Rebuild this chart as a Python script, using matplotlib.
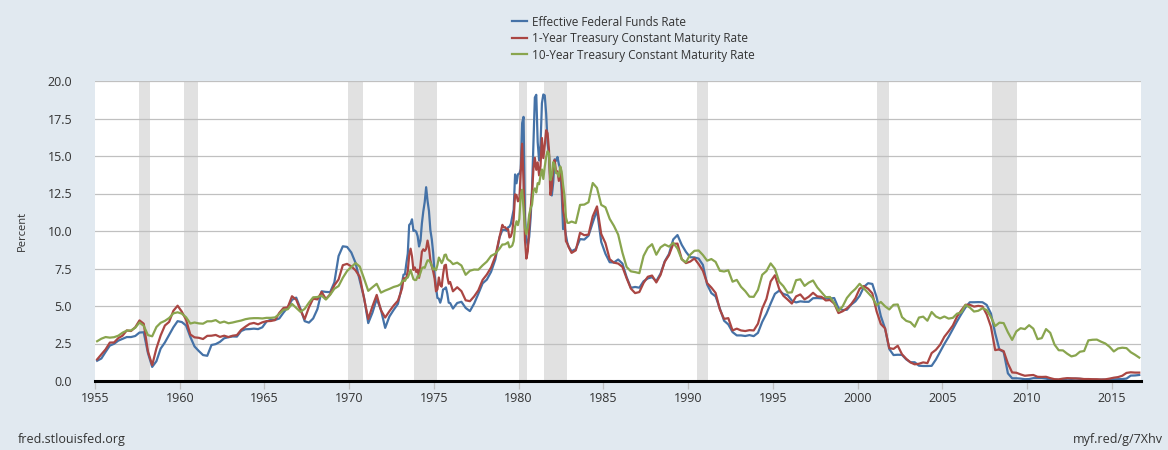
import numpy as np
import matplotlib.pyplot as plt

# Effective Federal Funds Rate (quarterly / monthly in volatile years)
ff_q_1955 = [1.35, 1.50, 1.94, 2.36, 2.48, 2.69, 2.81, 2.93, 2.93, 3.00, 3.23, 3.25,
             1.86, 0.94, 1.32, 2.16, 2.57, 3.08, 3.58, 3.99, 3.93, 3.70, 2.94, 2.30,
             2.00, 1.73, 1.68, 2.40, 2.46, 2.61, 2.85, 2.92, 2.97, 2.96, 3.33, 3.45,
             3.46, 3.49, 3.46, 3.58, 3.97, 4.08, 4.07, 4.17, 4.56, 4.91, 5.41, 5.56,
             4.82, 3.99, 3.89, 4.17, 4.79, 5.98, 5.94, 5.92, 6.57, 8.33, 8.98, 8.94,
             8.57, 7.88, 6.70, 5.57, 3.86, 4.56, 5.47, 4.75, 3.54, 4.30, 4.74, 5.14]
ff_m_1973 = [5.94, 6.58, 7.09, 7.12, 7.84, 8.49, 10.40, 10.50, 10.78, 10.01, 10.03, 9.95,
             9.65, 8.97, 9.35, 10.51, 11.31, 11.93, 12.92, 12.01, 11.34, 10.06, 9.45, 8.53,
             7.13, 6.24, 5.54, 5.49, 5.22, 5.55, 6.10, 6.14, 6.24, 5.82, 5.22, 5.20]
ff_q_1976 = [4.83, 5.20, 5.28, 4.87, 4.66, 5.16, 5.82, 6.51, 6.76, 7.28, 8.10, 9.58]
ff_m_1979 = [10.07, 10.06, 10.09, 10.01, 10.24, 10.29, 10.47, 10.94, 11.43, 13.77, 13.18, 13.78,
             13.82, 14.13, 17.19, 17.61, 10.98, 9.47, 9.03, 9.61, 10.87, 12.81, 15.85, 18.90,
             19.08, 15.93, 14.70, 15.72, 18.52, 19.10, 19.04, 17.82, 15.87, 15.08, 13.31, 12.37,
             13.22, 14.78, 14.68, 14.94, 14.45, 14.15, 12.59, 10.12, 10.31, 9.71, 9.20, 8.95]
ff_q_1983 = [8.65, 8.80, 9.46, 9.43, 9.69, 10.56, 11.39, 9.27, 8.48, 7.92, 7.90, 8.10,
             7.83, 6.92, 6.21, 6.27, 6.22, 6.65, 6.84, 6.92, 6.66, 7.16, 7.98, 8.47,
             9.44, 9.73, 9.08, 8.61, 8.25, 8.24, 8.16, 7.74, 6.43, 5.86, 5.64, 4.82,
             4.02, 3.77, 3.26, 3.04, 3.04, 3.00, 3.06, 2.99, 3.21, 3.94, 4.49, 5.17,
             5.81, 6.02, 5.80, 5.72, 5.36, 5.24, 5.31, 5.28, 5.28, 5.52, 5.53, 5.51,
             5.52, 5.50, 5.53, 4.86, 4.73, 4.75, 5.09, 5.31, 5.68, 6.27, 6.52, 6.47,
             5.59, 4.33, 3.50, 2.13, 1.73, 1.75, 1.74, 1.44, 1.25, 1.25, 1.02, 1.00,
             1.00, 1.01, 1.43, 1.95, 2.47, 2.94, 3.46, 3.98, 4.46, 4.91, 5.25, 5.25,
             5.26, 5.25, 5.07, 4.50, 3.18, 2.09, 1.94, 0.51, 0.18, 0.18, 0.16, 0.12,
             0.13, 0.19, 0.19, 0.19, 0.16, 0.09, 0.08, 0.07, 0.10, 0.15, 0.14, 0.16,
             0.14, 0.12, 0.08, 0.09, 0.07, 0.09, 0.09, 0.10, 0.11, 0.12, 0.13, 0.16,
             0.36, 0.37, 0.40]

# 1-Year Treasury Constant Maturity Rate
gs1_q_1955 = [1.44, 1.77, 2.11, 2.56, 2.57, 2.86, 3.02, 3.37, 3.33, 3.58, 4.04, 3.82,
              1.97, 1.06, 2.18, 3.04, 3.70, 3.94, 4.68, 5.02, 4.62, 4.08, 3.10, 2.91,
              2.88, 2.80, 3.01, 3.02, 3.07, 2.94, 3.02, 2.93, 3.02, 3.06, 3.41, 3.62,
              3.81, 3.87, 3.78, 3.91, 3.99, 4.00, 4.06, 4.54, 4.87, 4.91, 5.65, 5.42,
              4.72, 4.13, 4.91, 5.49, 5.44, 5.94, 5.47, 5.78, 6.38, 6.77, 7.72, 7.81,
              7.64, 7.38, 6.94, 5.52, 4.13, 4.98, 5.74, 4.72, 4.23, 4.65, 5.03, 5.35]
gs1_m_1973 = [5.89, 6.19, 6.85, 6.85, 6.89, 7.31, 8.39, 8.82, 8.31, 7.40, 7.57, 7.27,
              7.42, 6.88, 7.76, 8.62, 8.78, 8.67, 8.80, 9.36, 8.87, 8.05, 7.66, 7.31,
              6.83, 5.98, 6.11, 6.90, 6.39, 6.29, 7.11, 7.70, 7.75, 6.95, 6.49, 6.60]
gs1_q_1976 = [5.98, 6.25, 5.99, 5.38, 5.32, 5.64, 6.05, 6.74, 7.10, 7.57, 8.31, 9.61]
gs1_m_1979 = [10.41, 10.24, 10.25, 10.12, 10.12, 9.57, 9.64, 9.98, 10.84, 12.44, 12.39, 11.98,
              12.06, 13.92, 15.82, 13.30, 9.39, 8.16, 8.65, 10.24, 11.52, 12.49, 14.15, 14.88,
              14.08, 14.57, 13.71, 14.32, 16.20, 14.86, 15.72, 16.72, 16.52, 15.38, 12.41, 12.85,
              14.32, 14.73, 13.95, 13.98, 13.34, 14.07, 13.24, 11.43, 10.85, 9.32, 9.16, 8.91]
gs1_q_1983 = [8.54, 8.71, 9.88, 9.72, 9.76, 10.98, 11.64, 9.80, 9.19, 8.12, 7.89, 7.83,
              7.61, 6.85, 6.16, 5.86, 5.93, 6.54, 6.95, 7.03, 6.57, 7.07, 7.95, 8.39,
              9.14, 9.16, 8.13, 7.86, 7.96, 8.17, 7.79, 7.35, 6.53, 6.23, 5.87, 4.77,
              4.14, 4.19, 3.37, 3.49, 3.37, 3.33, 3.39, 3.37, 3.82, 4.83, 5.47, 6.64,
              7.05, 6.14, 5.68, 5.43, 5.16, 5.64, 5.77, 5.44, 5.62, 5.88, 5.64, 5.61,
              5.37, 5.40, 5.16, 4.53, 4.65, 4.84, 5.12, 5.52, 6.15, 6.33, 6.15, 5.84,
              4.65, 3.80, 3.51, 2.19, 2.14, 2.35, 1.78, 1.48, 1.24, 1.11, 1.15, 1.24,
              1.19, 1.86, 2.08, 2.42, 2.95, 3.31, 3.70, 4.30, 4.71, 5.08, 5.08, 4.96,
              5.01, 4.97, 4.44, 3.62, 2.06, 2.11, 1.99, 1.17, 0.57, 0.55, 0.44, 0.35,
              0.38, 0.40, 0.28, 0.27, 0.28, 0.19, 0.12, 0.11, 0.16, 0.19, 0.18, 0.17,
              0.16, 0.13, 0.13, 0.12, 0.12, 0.10, 0.11, 0.16, 0.22, 0.26, 0.35, 0.54,
              0.58, 0.56, 0.56]

# 10-Year Treasury Constant Maturity Rate
gs10_q_1955 = [2.65, 2.82, 2.93, 2.89, 2.92, 3.02, 3.22, 3.36, 3.37, 3.55, 3.90, 3.68,
               3.06, 2.98, 3.60, 3.88, 4.01, 4.20, 4.51, 4.58, 4.49, 4.25, 3.83, 3.90,
               3.84, 3.82, 3.98, 3.98, 4.06, 3.88, 3.96, 3.85, 3.90, 3.97, 4.03, 4.12,
               4.17, 4.19, 4.19, 4.17, 4.21, 4.21, 4.24, 4.46, 4.75, 4.78, 5.14, 4.88,
               4.61, 4.81, 5.22, 5.58, 5.60, 5.69, 5.43, 5.74, 6.15, 6.33, 6.88, 7.33,
               7.59, 7.86, 7.63, 6.84, 6.01, 6.25, 6.48, 5.89, 6.03, 6.14, 6.27, 6.35]
gs10_m_1973 = [6.46, 6.64, 6.71, 6.67, 6.85, 6.90, 7.13, 7.40, 7.09, 6.79, 6.73, 6.74,
               6.99, 6.96, 7.21, 7.51, 7.58, 7.54, 7.81, 8.04, 8.04, 7.90, 7.68, 7.43,
               7.50, 7.39, 7.73, 8.23, 8.06, 7.86, 8.06, 8.40, 8.43, 8.14, 8.05, 8.00]
gs10_q_1976 = [7.79, 7.89, 7.70, 7.08, 7.35, 7.43, 7.42, 7.71, 7.96, 8.34, 8.49, 8.82]
gs10_m_1979 = [9.10, 9.10, 9.12, 9.18, 9.25, 8.91, 8.95, 9.03, 9.33, 10.30, 10.65, 10.39,
               10.80, 12.41, 12.75, 11.47, 10.18, 9.78, 10.25, 11.10, 11.51, 11.75, 12.68, 12.84,
               12.57, 13.19, 13.12, 13.68, 14.10, 13.47, 14.28, 14.94, 15.32, 15.15, 13.39, 13.72,
               14.59, 14.43, 13.86, 13.87, 13.62, 14.30, 13.95, 13.06, 12.34, 10.91, 10.55, 10.54]
gs10_q_1983 = [10.63, 10.53, 11.74, 11.76, 11.92, 13.20, 12.87, 11.74, 11.58, 10.81, 10.34, 9.76,
               8.56, 7.60, 7.31, 7.26, 7.19, 8.34, 8.88, 9.12, 8.42, 8.91, 9.10, 8.96,
               9.21, 8.83, 8.11, 7.91, 8.42, 8.68, 8.70, 8.40, 8.02, 8.13, 7.94, 7.35,
               7.30, 7.38, 6.62, 6.74, 6.28, 5.99, 5.62, 5.61, 6.07, 7.08, 7.33, 7.84,
               7.48, 6.62, 6.32, 5.89, 5.91, 6.72, 6.78, 6.34, 6.56, 6.70, 6.24, 5.91,
               5.59, 5.60, 5.20, 4.67, 4.98, 5.54, 5.88, 6.14, 6.48, 6.18, 5.89, 5.57,
               5.05, 5.27, 4.98, 4.77, 5.08, 5.10, 4.26, 4.01, 3.92, 3.62, 4.23, 4.29,
               4.02, 4.60, 4.30, 4.17, 4.30, 4.16, 4.21, 4.49, 4.57, 5.07, 4.90, 4.63,
               4.68, 4.85, 4.73, 4.26, 3.66, 3.89, 3.86, 3.25, 2.74, 3.31, 3.52, 3.46,
               3.72, 3.49, 2.79, 2.86, 3.46, 3.21, 2.43, 2.05, 2.04, 1.82, 1.64, 1.71,
               1.95, 2.00, 2.71, 2.75, 2.76, 2.62, 2.50, 2.28, 1.97, 2.17, 2.22, 2.19,
               1.92, 1.75, 1.56]

# NBER recessions (peak, trough) as (year, month)
recessions = [((1957, 8), (1958, 4)), ((1960, 4), (1961, 2)), ((1969, 12), (1970, 11)),
              ((1973, 11), (1975, 3)), ((1980, 1), (1980, 7)), ((1981, 7), (1982, 11)),
              ((1990, 7), (1991, 3)), ((2001, 3), (2001, 11)), ((2007, 12), (2009, 6))]

labels = ['Effective Federal Funds Rate', '1-Year Treasury Constant Maturity Rate',
          '10-Year Treasury Constant Maturity Rate']
colors = ['#4572a7', '#aa4643', '#89a54e']


def build(q1955, m1973, q1976, m1979, q1983):
    # stitch quarterly and monthly pieces onto a decimal-year axis
    xs, ys = [], []
    for start, vals, step in [(1955, q1955, 4), (1973, m1973, 12), (1976, q1976, 4),
                              (1979, m1979, 12), (1983, q1983, 4)]:
        xs.append(start + (np.arange(len(vals)) + 0.5) / step)
        ys.append(np.array(vals))
    return np.concatenate(xs), np.concatenate(ys)


series = [build(ff_q_1955, ff_m_1973, ff_q_1976, ff_m_1979, ff_q_1983),
          build(gs1_q_1955, gs1_m_1973, gs1_q_1976, gs1_m_1979, gs1_q_1983),
          build(gs10_q_1955, gs10_m_1973, gs10_q_1976, gs10_m_1979, gs10_q_1983)]

bg = '#e1e9f0'
txt = '#333333'
plt.rcParams['font.family'] = ['Open Sans', 'DejaVu Sans']

fig = plt.figure(figsize=(11.68, 4.5), dpi=100, facecolor=bg)
ax = fig.add_axes([95 / 1168, 1 - 381 / 450, 1046 / 1168, 300 / 450])
ax.set_facecolor('white')

for (y0, m0), (y1, m1) in recessions:
    ax.axvspan(y0 + (m0 - 1) / 12, y1 + (m1 - 1) / 12, color='#e1e1e1', lw=0, zorder=0)

handles = []
for (x, y), c, lab in zip(series, colors, labels):
    h, = ax.plot(x, y, color=c, lw=1.6, label=lab, zorder=3)
    handles.append(h)

ax.set_xlim(1955, 2016.73)
ax.set_ylim(0, 20)
ax.set_yticks(np.arange(0, 20.1, 2.5))
ax.set_yticklabels(['%.1f' % v for v in np.arange(0, 20.1, 2.5)])
ax.set_xticks(np.arange(1955, 2016, 5))
ax.grid(axis='y', color='#c0c0c0', lw=0.9, zorder=1)
ax.axhline(0, color='black', lw=2.2, zorder=4, clip_on=False)
for s in ax.spines.values():
    s.set_visible(False)
ax.tick_params(axis='y', length=0, pad=16.5, labelsize=9, labelcolor=txt)
ax.tick_params(axis='x', length=6, width=0.9, color='#c0c0c0', pad=2, labelsize=9, labelcolor=txt)
ax.set_ylabel('Percent', fontsize=8, color=txt, labelpad=14)

fig.legend(handles, labels, loc='upper left', bbox_to_anchor=(0.434, 0.976), frameon=False,
           fontsize=8.5, handlelength=1.3, handletextpad=0.45, labelspacing=0.3,
           labelcolor=txt, borderaxespad=0)

fig.text(18 / 1168, 1 - 440 / 450, 'fred.stlouisfed.org', fontsize=9, color=txt, va='center')
fig.text(1163 / 1168, 1 - 440 / 450, 'myf.red/g/7Xhv', fontsize=9, color=txt, va='center', ha='right')

fig.savefig('out.png', dpi=100, facecolor=bg)
